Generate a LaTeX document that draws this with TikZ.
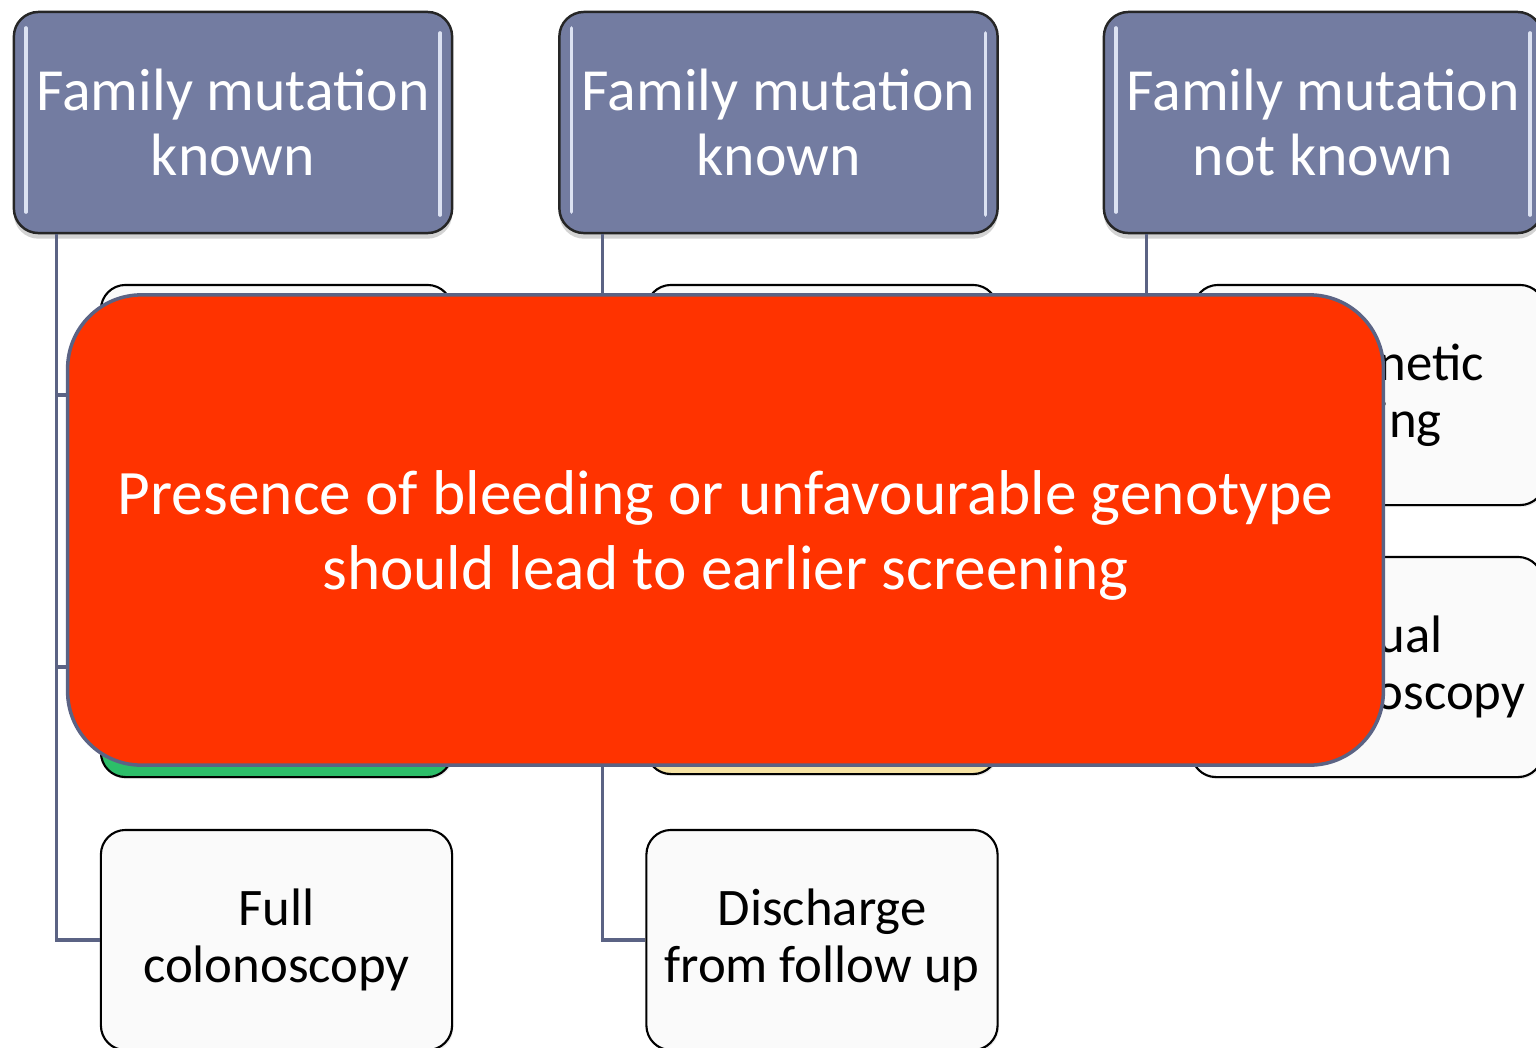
\documentclass[tikz,border=0pt]{standalone}
\usepackage{fontspec}
\setmainfont{Carlito}
\usetikzlibrary{shadows}

\definecolor{slate}{HTML}{737CA1}
\definecolor{linkgrey}{HTML}{5B6384}
\definecolor{alarm}{HTML}{FF3300}
\definecolor{okgreen}{HTML}{2CBE69}
\definecolor{sand}{HTML}{F6E3A3}
\definecolor{gloss}{HTML}{DCE2F2}

\begin{document}
\begin{tikzpicture}[x=0.01cm, y=-0.01cm,
    famhead/.style={draw=black!85, line width=0.7pt, fill=slate, rounded corners=7pt,
        minimum width=4.38cm, minimum height=2.21cm, text=white, align=center,
        font=\fontsize{17}{18.5}\selectfont,
        drop shadow={shadow xshift=0pt, shadow yshift=-1.6pt, opacity=.35},
        path picture={
            \draw[gloss, line width=1pt, line cap=round]
                ([xshift=0.12cm, yshift=-0.16cm]path picture bounding box.north west) --
                ([xshift=0.12cm, yshift=0.21cm]path picture bounding box.south west);
            \draw[gloss, line width=1pt, line cap=round]
                ([xshift=-0.12cm, yshift=-0.21cm]path picture bounding box.north east) --
                ([xshift=-0.12cm, yshift=0.18cm]path picture bounding box.south east);
        }},
    stepbox/.style={draw=black, line width=0.6pt, fill=white!98!black, rounded corners=7pt,
        minimum width=3.51cm, minimum height=2.2cm, align=center,
        font=\fontsize{15}{16.2}\selectfont,
        drop shadow={shadow xshift=0.4pt, shadow yshift=-0.6pt, opacity=.15}},
    branch/.style={draw=linkgrey, line width=0.9pt},
    warnbox/.style={draw=linkgrey, line width=1pt, fill=alarm, rounded corners=21pt,
        minimum width=13.15cm, minimum height=4.7cm, text=white,
        font=\fontsize{18}{21.3}\selectfont}]

    \clip (0,0) rectangle (1536,1047);

    % three columns
    \node[famhead] (h1) at (233,122.5) {Family mutation\\known};
    \node[famhead] (h2) at (778.5,122.5) {Family mutation\\known};
    \node[famhead] (h3) at (1323,122.5) {Family mutation\\not known};

    \node[stepbox] (c11) at (276.5,395) {};
    \node[stepbox, fill=okgreen] (c12) at (276.5,667) {};
    \node[stepbox] (c13) at (276.5,940) {Full\\colonoscopy};

    \node[stepbox] (c21) at (822,395) {};
    \node[stepbox, fill=sand] (c22) at (822,664) {};
    \node[stepbox] (c23) at (822,940) {Discharge\\from follow up};

    \node[stepbox] (c31) at (1369,395) {No genetic\\testing};
    \node[stepbox] (c32) at (1367,667) {Annual\\sigmoidoscopy};

    \draw[branch] ([xshift=0.44cm]h1.south west) |- (c11.west);
    \draw[branch] ([xshift=0.44cm]h1.south west) |- (c12.west);
    \draw[branch] ([xshift=0.44cm]h1.south west) |- (c13.west);
    \draw[branch] ([xshift=0.44cm]h2.south west) |- (c21.west);
    \draw[branch] ([xshift=0.44cm]h2.south west) |- (c22.west);
    \draw[branch] ([xshift=0.44cm]h2.south west) |- (c23.west);
    \draw[branch] ([xshift=0.44cm]h3.south west) |- (c31.west);
    \draw[branch] ([xshift=0.44cm]h3.south west) |- (c32.west);

    % overlay note
    \node[warnbox] (note) at (725.5,530) {\raisebox{-0.07cm}[\height][\depth]{\begin{tabular}{@{}c@{}}Presence of bleeding or unfavourable genotype\\should lead to earlier screening\end{tabular}}};
\end{tikzpicture}
\end{document}
